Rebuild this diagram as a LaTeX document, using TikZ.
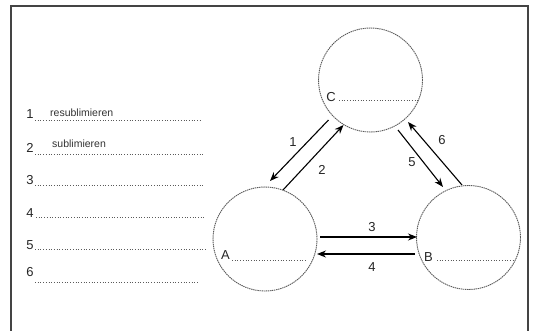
\documentclass[tikz,border=0pt]{standalone}
\usepackage{fontspec}
\setmainfont{Liberation Sans}
\usetikzlibrary{arrows.meta,calc}
\definecolor{framegray}{HTML}{444444}
\definecolor{dotgray}{HTML}{5A5A5A}
\tikzset{
  circ/.style={circle,draw=dotgray,dash pattern=on 1.4pt off 0.7pt,line width=0.9pt,minimum size=104pt,inner sep=0pt},
  arr/.style={line width=1.1pt,-{Stealth[length=9pt,width=7pt]}},
  lbl/.style={font=\fontsize{13}{15}\selectfont,inner sep=0pt,text=black!85},
  word/.style={font=\fontsize{10.5}{12}\selectfont,inner sep=0pt,anchor=west,text=black!80},
  rule/.style={dotgray,dotted,line width=0.7pt},
  frame/.style={framegray,line width=1.5pt}
}
\begin{document}
\begin{tikzpicture}[x=1pt,y=-1pt]
\useasboundingbox (0,0) rectangle (533,330);
\fill[white] (0,0) rectangle (533,330);
% frame
\draw[frame] (11,331) -- (11,6) -- (528,6) -- (528,331);
% circles
\node[circ] (C) at (370.5,80) {};
\node[circ] (A) at (265,239) {};
\node[circ] (B) at (468.5,237.5) {};
% labels inside circles
\node[lbl] (la) at (225.5,255.5) {A};
\node[lbl] (lb) at (428.5,257.5) {B};
\node[lbl] (lc) at (331,97.5) {C};
\draw[rule] (232,260.5) -- (307,260.5);
\draw[rule] (437,260) -- (513,260);
\draw[rule] (339,100) -- (418,100);
% arrows
\draw[arr] ($(C.center)+(-42,40)$) -- ($(A.center)+(5,-58)$);
\draw[arr] ($(A.center)+(18,-49)$) -- ($(C.center)+(-27,45)$);
\draw[arr] ($(C.center)+(27.5,50)$) -- ($(B.center)+(-25.5,-50.5)$);
\draw[arr] ($(B.center)+(-6.5,-52.5)$) -- ($(C.center)+(37.5,42)$);
\draw[arr] ($(A.center)+(55,-2)$) -- ($(B.center)+(-51.5,-0.5)$);
\draw[arr] ($(B.center)+(-53.5,16.5)$) -- ($(A.center)+(52,15)$);
\node[lbl] (t1) at (293,142) {1};
\node[lbl] (t2) at (322,170) {2};
\node[lbl] (t3) at (372,227) {3};
\node[lbl] (t4) at (372,267) {4};
\node[lbl] (t5) at (412,162) {5};
\node[lbl] (t6) at (442,140) {6};
% list
\node[lbl] (n1) at (30,114.5) {1};
\node[lbl] (n2) at (30,148) {2};
\node[lbl] (n3) at (30,180) {3};
\node[lbl] (n4) at (30,213) {4};
\node[lbl] (n5) at (30,245) {5};
\node[lbl] (n6) at (30,272.5) {6};
\draw[rule] (35,120) -- (202,120);
\draw[rule] (35,154) -- (204,154);
\draw[rule] (35,185) -- (203,185);
\draw[rule] (36,217) -- (205,217);
\draw[rule] (35,249) -- (207,249);
\draw[rule] (35,282) -- (198,282);
\node[word] (w1) at (50,113) {resublimieren};
\node[word] (w2) at (52,143.5) {sublimieren};
\end{tikzpicture}
\end{document}
